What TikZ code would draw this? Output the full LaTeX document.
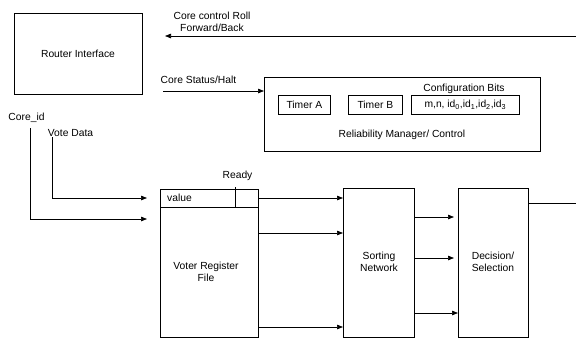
\documentclass[tikz,border=0pt]{standalone}
\usepackage{fontspec}
\setmainfont{Liberation Sans}
\usetikzlibrary{arrows.meta}
\begin{document}
\begin{tikzpicture}[x=1pt,y=-1pt,
  box/.style={draw, line width=0.7pt, inner sep=0pt, anchor=north west},
  lbl/.style={inner sep=0pt, font=\fontsize{10.3}{12.5}\selectfont, align=center},
  conn/.style={line width=0.7pt},
  arr/.style={line width=0.7pt, -{Triangle[length=6pt,width=4.5pt]}}]
\useasboundingbox (0,0) rectangle (576,341);
% boxes
\node[box, minimum width=128pt, minimum height=81pt] (router) at (14,13) {};
\node[lbl] (routert) at (78,53.5) {Router Interface};
\node[box, minimum width=276pt, minimum height=74pt] (rel) at (264,77) {};
\node[box, minimum width=52pt, minimum height=19pt] (ta) at (278,95) {};
\node[lbl] at (ta.center) {Timer A};
\node[box, minimum width=54pt, minimum height=19pt] (tb) at (348,95) {};
\node[lbl] at (tb.center) {Timer B};
\node[box, minimum width=108pt, minimum height=19pt] (cfg) at (411,95) {};
\node[lbl] (cfgt) at (cfg.center) {m,n, id\textsubscript{0},id\textsubscript{1},id\textsubscript{2},id\textsubscript{3}};
\node[lbl] (cfgbits) at (464,89) {Configuration Bits};
\node[lbl] (relt) at (402,135) {Reliability Manager/ Control};
\node[box, minimum width=98pt, minimum height=148pt] (voter) at (160,189) {};
\node[lbl] (votert) at (206,272) {Voter Register\\File};
\node[box, minimum width=71pt, minimum height=149pt] (sort) at (343,188) {};
\node[lbl] (sortt) at (379,262) {Sorting\\Network};
\node[box, minimum width=70pt, minimum height=149pt] (dec) at (458,188) {};
\node[lbl] (dect) at (493,262) {Decision/\\Selection};
% voter internals
\draw[conn] (voter.west |- 0,207) -- (voter.east |- 0,207);
\draw[conn] (235,187) -- (235,207);
\node[lbl, anchor=west] (valuet) at (167,198) {value};
\node[lbl] (ready) at (237.5,176) {Ready};
% labels
\node[lbl] (cctl) at (212,22) {Core control Roll\\Forward/Back};
\node[lbl] (cstat) at (198.5,80) {Core Status/Halt};
\node[lbl] (coreid) at (26.5,118) {Core\_id};
\node[lbl] (vdata) at (70.5,133) {Vote Data};
% coordinates
\coordinate (ccR) at (576,36);
\coordinate (ccL) at (165,36);
\coordinate (csL) at (163,91);
\coordinate (cidT) at (30,128);
\coordinate (cidE) at (147,219);
\coordinate (vdT) at (52,137);
\coordinate (vdE) at (147,198);
\coordinate (outE) at (576,203);
% connectors
\draw[arr] (ccR) -- (ccL);
\draw[arr] (csL) -- (csL -| rel.west);
\draw[arr] (cidT) |- (cidE);
\draw[arr] (vdT) |- (vdE);
\draw[arr] (voter.east |- 0,198) -- (sort.west |- 0,198);
\draw[arr] (voter.east |- 0,233) -- (sort.west |- 0,233);
\draw[arr] (voter.east |- 0,327) -- (sort.west |- 0,327);
\draw[arr] (sort.east |- 0,217) -- (454,217);
\draw[arr] (sort.east |- 0,258) -- (454,258);
\draw[arr] (sort.east |- 0,313) -- (dec.west |- 0,313);
\draw[conn] (dec.east |- 0,203) -- (outE);
\end{tikzpicture}
\end{document}
